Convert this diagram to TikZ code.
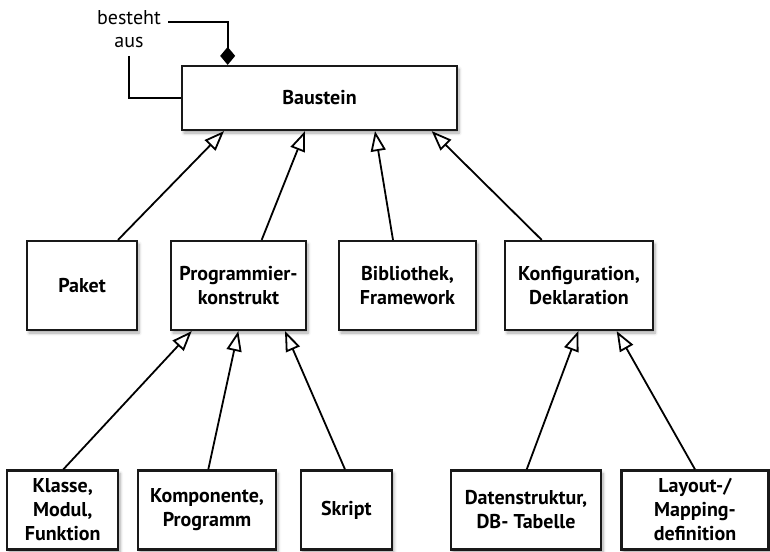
\documentclass[tikz,border=0pt]{standalone}
\usepackage{fontspec}
\setmainfont{PT Sans}
\usetikzlibrary{arrows.meta,shadows.blur}
\begin{document}
\begin{tikzpicture}[x=1pt,y=-1pt,
  box/.style={draw=black!90, line width=2.2pt, fill=white, align=center,
    font=\bfseries\fontsize{20}{24}\selectfont, inner sep=0pt,
    blur shadow={shadow blur steps=6, shadow xshift=2pt, shadow yshift=-3pt,
      shadow blur radius=3pt, shadow opacity=35}},
  inherit/.style={line width=1.8pt, -{Triangle[open, length=20pt, width=15pt, line width=1.8pt]}},
  compose/.style={line width=1.8pt, -{Diamond[length=18pt, width=15pt]}},
  plain/.style={line width=1.8pt}]
\useasboundingbox (0,0) rectangle (770,551);

% top level
\node[box, minimum width=275pt, minimum height=64pt] (baustein) at (319.5,98) {Baustein};

% second level
\node[box, minimum width=110pt, minimum height=89pt] (paket) at (82,285.5) {Paket};
\node[box, minimum width=135pt, minimum height=89pt] (prog) at (238.5,285.5) {Programmier-\\konstrukt};
\node[box, minimum width=137pt, minimum height=89pt] (bib) at (407.5,285.5) {Bibliothek,\\Framework};
\node[box, minimum width=148pt, minimum height=89pt] (konf) at (579,285.5) {Konfiguration,\\Deklaration};

% third level
\node[box, minimum width=111pt, minimum height=79pt] (klasse) at (62.7,510) {Klasse,\\Modul,\\Funktion};
\node[box, minimum width=138pt, minimum height=79pt] (komp) at (207,510) {Komponente,\\Programm};
\node[box, minimum width=91pt, minimum height=79pt] (skript) at (346.3,510) {Skript};
\node[box, minimum width=150pt, minimum height=79pt] (daten) at (526,510) {Datenstruktur,\\DB- Tabelle};
\node[box, minimum width=147pt, minimum height=79pt] (layout) at (695,510) {Layout-/\\Mapping-\\definition};

% self composition
\node[align=center, font=\fontsize{20}{23}\selectfont, inner sep=0pt] (lbl) at (129,29) {besteht\\aus};
\coordinate (c1) at (168,22);
\coordinate (c2) at (129.3,56);
\draw[compose] (c1) -| ([xshift=-91.8pt]baustein.north);
\draw[plain] (c2) |- (baustein.west);

% generalisations
\draw[inherit] ([xshift=36pt]paket.north) -- ([xshift=-95.5pt]baustein.south);
\draw[inherit] ([xshift=23.2pt]prog.north) -- ([xshift=-14.5pt]baustein.south);
\draw[inherit] ([xshift=-14.5pt]bib.north) -- ([xshift=55.5pt]baustein.south);
\draw[inherit] ([xshift=-37.3pt]konf.north) -- ([xshift=112.2pt]baustein.south);

\draw[inherit] ([xshift=0.6pt]klasse.north) -- ([xshift=-46.8pt]prog.south);
\draw[inherit] ([xshift=1.3pt]komp.north) -- ([xshift=-0.2pt]prog.south);
\draw[inherit] ([xshift=-1.3pt]skript.north) -- ([xshift=46.5pt]prog.south);
\draw[inherit] ([xshift=0.7pt]daten.north) -- ([xshift=-0.7pt]konf.south);
\draw[inherit] (layout.north) -- ([xshift=37.7pt]konf.south);
\end{tikzpicture}
\end{document}
